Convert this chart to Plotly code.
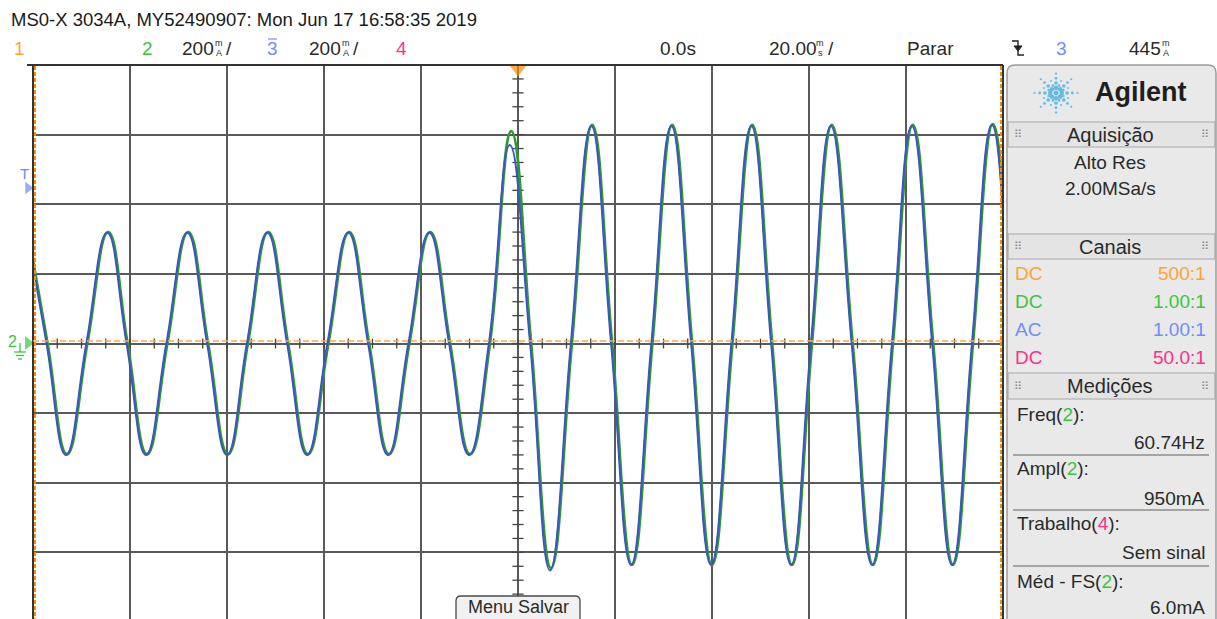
import plotly.graph_objects as go
import numpy as np

W, H = 1217, 619

# ---------------- data ----------------
# time in ms, current in mA  (20 ms/div, 200 mA/div)
t_ch2 = [-101.0, -97.0, -93.0, -88.8, -84.5, -80.5, -76.5, -72.3, -68.0, -63.9,
         -59.8, -55.7, -51.5, -47.4, -43.3, -39.1, -34.8, -30.7, -26.6, -22.4,
         -18.1, -14.0, -9.9, -5.8, -1.4, 2.7, 6.8, 11.1, 15.3, 19.4,
         23.5, 27.7, 31.8, 35.9, 40.0, 44.2, 48.3, 52.4, 56.5, 60.6,
         64.7, 69.0, 73.2, 77.3, 81.4, 85.6, 89.7, 93.8, 97.9, 102.1, 106.2]
i_ch2 = [318, 0, -318, 0, 320, 0, -318, 0, 320, 0,
         -318, 0, 320, 0, -318, 0, 320, 0, -318, 0,
         320, 0, -318, 0, 610, 0, -645, 0, 628, 0,
         -636, 0, 628, 0, -636, 0, 628, 0, -636, 0,
         628, 0, -636, 0, 628, 0, -636, 0, 630, 0, -636]

t_ch3 = [-101.2, -97.2, -93.2, -89.0, -84.7, -80.7, -76.7, -72.5, -68.2, -64.1,
         -60.0, -55.9, -51.7, -47.6, -43.5, -39.3, -35.0, -30.9, -26.8, -22.6,
         -18.3, -14.2, -10.1, -6.0, -1.7, 2.5, 6.6, 10.9, 15.1, 19.2,
         23.3, 27.5, 31.6, 35.7, 39.8, 44.0, 48.1, 52.2, 56.3, 60.4,
         64.5, 68.8, 73.0, 77.1, 81.2, 85.4, 89.5, 93.6, 97.7, 101.9, 106.0]
i_ch3 = [318, 0, -320, 0, 318, 0, -320, 0, 318, 0,
         -320, 0, 318, 0, -320, 0, 318, 0, -320, 0,
         318, 0, -320, 0, 570, 0, -652, 0, 625, 0,
         -636, 0, 625, 0, -636, 0, 625, 0, -636, 0,
         625, 0, -636, 0, 625, 0, -636, 0, 628, 0, -636]

x_range_ms = [-100, 100]
y_range_mA = [-791.4, 800]
time_per_div = 20
amp_per_div = 200

header_title = "MS0-X 3034A, MY52490907: Mon Jun 17 16:58:35 2019"
channel_rows = [("DC", "500:1", "#ffa334"), ("DC", "1.00:1", "#3dc43d"),
                ("AC", "1.00:1", "#6f8cff"), ("DC", "50.0:1", "#ff2f8e")]
measurements = [("Freq(", "2", "):", "60.74Hz", "#3dc43d"),
                ("Ampl(", "2", "):", "950mA", "#3dc43d"),
                ("Trabalho(", "4", "):", "Sem sinal", "#ff2f8e"),
                ("Méd - FS(", "2", "):", "6.0mA", "#3dc43d")]

# ---------------- styling ----------------
FONT = "Liberation Sans, Arial, sans-serif"
TXT = "#2a2a2a"
ORANGE = "#ffa334"
GREEN = "#3dc43d"
BLUE = "#6f8cff"
PINK = "#ff2f8e"
GRID = "#5a5a5a"

fig = go.Figure()

# center graticule ticks
tx = np.arange(-100, 100.01, 5)
ty = np.arange(-800, 800.01, 40)
fig.add_trace(go.Scatter(x=tx, y=np.zeros_like(tx), mode="markers",
                         marker=dict(symbol="line-ns", size=7, line=dict(width=1.3, color="#444")),
                         hoverinfo="skip", showlegend=False, xaxis="x", yaxis="y"))
fig.add_trace(go.Scatter(x=np.zeros_like(ty), y=ty, mode="markers",
                         marker=dict(symbol="line-ew", size=8, line=dict(width=1.3, color="#444")),
                         hoverinfo="skip", showlegend=False, xaxis="x", yaxis="y"))

# waveforms
fig.add_trace(go.Scatter(x=t_ch2, y=i_ch2, mode="lines",
                         line=dict(color="#2e9a2e", width=2.8, shape="spline", smoothing=1.3),
                         showlegend=False, xaxis="x", yaxis="y"))
fig.add_trace(go.Scatter(x=t_ch3, y=i_ch3, mode="lines",
                         line=dict(color="#3b55c4", width=2.0, shape="spline", smoothing=1.3),
                         showlegend=False, xaxis="x", yaxis="y"))

shapes = []
def pline(x0, y0, x1, y1, color, width=1.5, dash="solid", layer="above"):
    shapes.append(dict(type="line", xref="x2", yref="y2", x0=x0, y0=y0, x1=x1, y1=y1,
                       line=dict(color=color, width=width, dash=dash), layer=layer))

# borders of the graticule
pline(27, 65, 1003, 65, "#333", 2)
pline(33, 65, 33, 619, "#333", 2)
pline(1003, 65, 1003, 619, "#333", 2)
# channel 1 (orange dashed)
pline(35, 66, 35, 619, "#ff8a00", 2, "4px,2px")
pline(1001, 66, 1001, 619, "#ff8a00", 2, "4px,2px")
pline(33, 341, 1003, 341, "#ffa64d", 1.6, "6px,3px")

# right panel
shapes.append(dict(type="path", xref="x2", yref="y2",
                   path="M 1015,65 L 1208,65 Q 1216,65 1216,73 L 1216,640 L 1007,640 L 1007,73 Q 1007,65 1015,65 Z",
                   fillcolor="#e9e9e9", line=dict(color="#9c9c9c", width=1.5), layer="below"))
for (y0, y1) in [(122, 147), (234, 259), (373, 399)]:
    shapes.append(dict(type="rect", xref="x2", yref="y2", x0=1008, x1=1215, y0=y0, y1=y1,
                       fillcolor="#e4e4e4", line=dict(color="#a8a8a8", width=1.2), layer="below"))
for y in [455, 510, 566]:
    pline(1013, y, 1209, y, "#8c8c8c", 1.3)

# Menu Salvar button
shapes.append(dict(type="path", xref="x2", yref="y2",
                   path="M 461,596 L 575,596 Q 580,596 580,601 L 580,625 L 456,625 L 456,601 Q 456,596 461,596 Z",
                   fillcolor="#f1f1f1", line=dict(color="#4a4a4a", width=1.3), layer="above"))

# overline on inverted channel 3 label
pline(268, 39, 277, 39, BLUE, 1.2)
# trigger slope symbol
shapes.append(dict(type="path", xref="x2", yref="y2",
                   path="M 1012,41 L 1018,41 L 1018,55 L 1024,55",
                   line=dict(color="#222", width=1.4), layer="above"))
shapes.append(dict(type="path", xref="x2", yref="y2",
                   path="M 1014,46 L 1022,46 L 1018,51 Z",
                   fillcolor="#222", line=dict(color="#222", width=1), layer="above"))
# ground symbol for channel 2
pline(20, 343, 20, 352, GREEN, 1.3)
pline(14, 352, 26, 352, GREEN, 1.3)
pline(16, 355.5, 24, 355.5, GREEN, 1.3)
pline(18, 359, 22, 359, GREEN, 1.3)

# markers in pixel space (trigger, ground)
mk_x = [518, 28, 28]
mk_y = [69, 188, 343]
fig.add_trace(go.Scatter(x=mk_x, y=mk_y, mode="markers", xaxis="x2", yaxis="y2",
                         marker=dict(symbol=["triangle-down", "triangle-right", "triangle-right"],
                                     size=[15, 11, 12], color=["#ff8a00", BLUE, GREEN],
                                     line=dict(width=0)),
                         hoverinfo="skip", showlegend=False, cliponaxis=False))

# Agilent spark logo
lx, ly = [1056], [93]
ls = [5]
for ang in range(0, 360, 45):
    a = np.deg2rad(ang)
    for r, s in [(5.5, 4.5), (10.5, 3.6), (15.5, 2.8), (20.5, 2.2)]:
        lx.append(1056 + r * np.cos(a) * 1.05)
        ly.append(93 + r * np.sin(a) * 0.95)
        ls.append(s)
for ang in np.arange(22.5, 360, 45):
    a = np.deg2rad(ang)
    for r, s in [(8, 2.6), (13, 2.0)]:
        lx.append(1056 + r * np.cos(a))
        ly.append(93 + r * np.sin(a))
        ls.append(s)
fig.add_trace(go.Scatter(x=lx, y=ly, mode="markers", xaxis="x2", yaxis="y2",
                         marker=dict(size=ls, color="#2aa7e0", line=dict(width=0)),
                         hoverinfo="skip", showlegend=False, cliponaxis=False))

ann = []
def txt(x, y, s, size=19, color=TXT, xanchor="left", family=FONT, bold=False):
    if bold:
        s = "<b>" + s + "</b>"
    ann.append(dict(x=x, y=y, xref="x2", yref="y2", text=s, showarrow=False,
                    xanchor=xanchor, yanchor="middle",
                    font=dict(size=size, color=color, family=family)))

# header
txt(9, 19, header_title, 18.5, "#1a1a1a")
txt(19, 48, "1", 19, ORANGE, "center")
txt(147, 48, "2", 19, GREEN, "center")
txt(180, 48, "200", 19)
txt(219, 43, "m", 9, TXT, "center")
txt(219, 53, "A", 9, TXT, "center")
txt(224, 48, "/", 19)
txt(272, 48, "3", 19, BLUE, "center")
txt(307, 48, "200", 19)
txt(346, 43, "m", 9, TXT, "center")
txt(346, 53, "A", 9, TXT, "center")
txt(351, 48, "/", 19)
txt(401, 48, "4", 19, PINK, "center")
txt(678, 48, "0.0s", 19, TXT, "center")
txt(767, 48, "20.00", 19)
txt(820, 43, "m", 9, TXT, "center")
txt(820, 53, "s", 9, TXT, "center")
txt(826, 48, "/", 19)
txt(930, 48, "Parar", 19, TXT, "center")
txt(1061, 48, "3", 19, BLUE, "center")
txt(1127, 48, "445", 19)
txt(1166, 43, "m", 9, TXT, "center")
txt(1166, 53, "A", 9, TXT, "center")

# trace side labels
txt(24, 173, "T", 15, BLUE, "center")
txt(12, 341, "2", 16, GREEN, "center")

# panel
txt(1141, 92, "Agilent", 27, "#1e1e1e", "center", "Liberation Sans, Arial, sans-serif", True)
GRIP = "⠿"
for (yc, label) in [(134.5, "Aquisição"), (246.5, "Canais"), (386, "Medições")]:
    txt(1110, yc, label, 20, TXT, "center")
    txt(1018, yc, GRIP, 11, "#8a8a8a", "center", "DejaVu Sans")
    txt(1205, yc, GRIP, 11, "#8a8a8a", "center", "DejaVu Sans")
txt(1110, 162, "Alto Res", 19, TXT, "center")
txt(1110, 188, "2.00MSa/s", 19, TXT, "center")
for k, (cpl, ratio, col) in enumerate(channel_rows):
    yc = 273 + 28 * k
    txt(1013, yc, cpl, 19, col, "left")
    txt(1208, yc, ratio, 19, col, "right")
meas_y = [(414, 442), (468, 498), (523, 552), (581, 607)]
for (lab, ch, end, val, col), (y1, y2) in zip(measurements, meas_y):
    txt(1015, y1, lab + f"<span style='color:{col}'>{ch}</span>" + end, 19, TXT, "left")
    txt(1207, y2, val, 19, TXT, "right")

# Menu Salvar
txt(518, 607, "Menu Salvar", 18, TXT, "center")

fig.update_layout(
    width=W, height=H, margin=dict(l=0, r=0, t=0, b=0),
    paper_bgcolor="white", plot_bgcolor="rgba(0,0,0,0)",
    xaxis=dict(domain=[33 / W, 1003 / W], range=x_range_ms, showgrid=True, gridcolor=GRID,
               gridwidth=1.6, dtick=time_per_div, tick0=0, showticklabels=False, ticks="",
               zeroline=False, showline=False, fixedrange=True, anchor="y"),
    yaxis=dict(domain=[0, 1 - 65 / H], range=y_range_mA, showgrid=True, gridcolor=GRID,
               gridwidth=1.6, dtick=amp_per_div, tick0=0, showticklabels=False, ticks="",
               zeroline=False, showline=False, fixedrange=True, anchor="x"),
    xaxis2=dict(domain=[0, 1], range=[0, W], visible=False, anchor="y2", fixedrange=True),
    yaxis2=dict(domain=[0, 1], range=[H, 0], visible=False, anchor="x2", fixedrange=True),
    shapes=shapes, annotations=ann, showlegend=False,
)

fig.write_html("out.html", config={"displayModeBar": False},
               post_script="document.body.style.margin='0';document.body.style.padding='0';")
